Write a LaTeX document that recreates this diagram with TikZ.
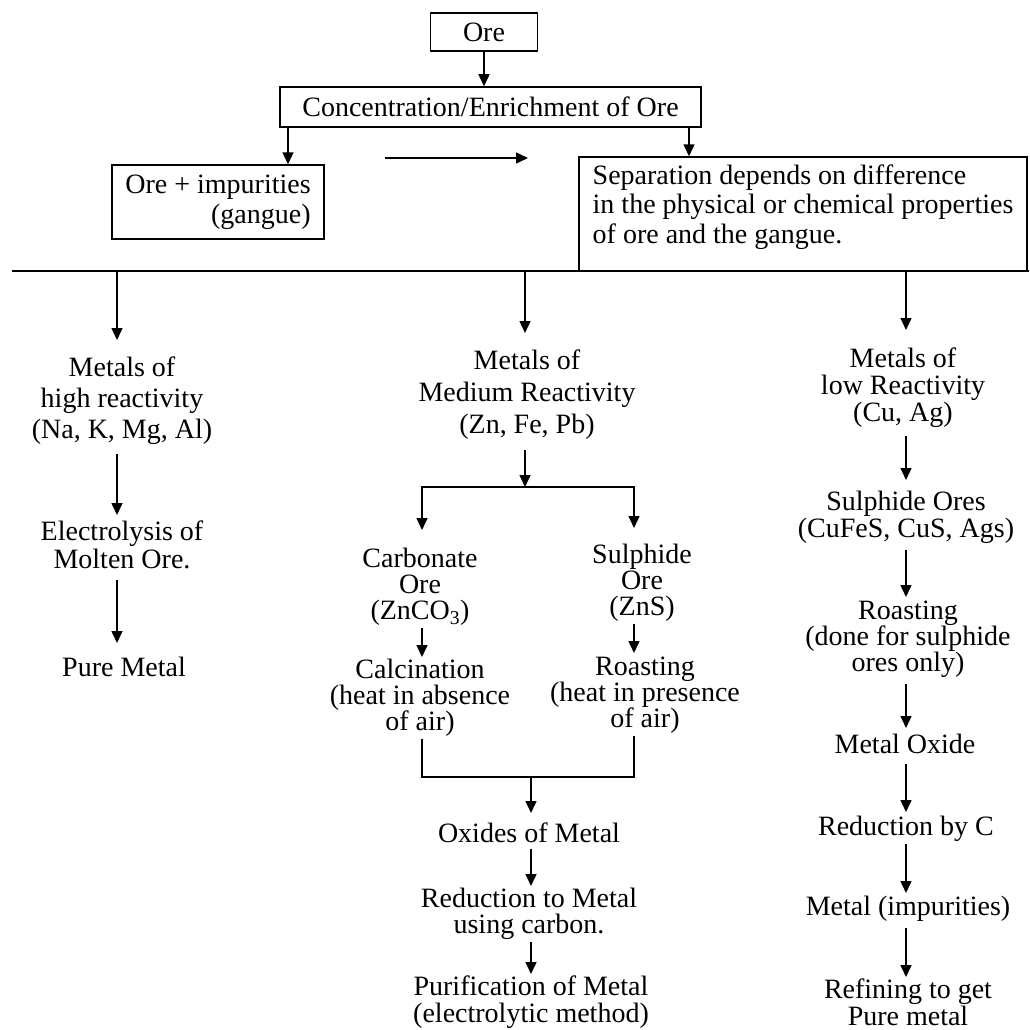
\documentclass[tikz,border=0pt]{standalone}
\usepackage{fontspec}
\setmainfont{Liberation Serif}
\usetikzlibrary{arrows.meta}
\newcommand{\fs}[2]{\fontsize{#1}{#2}\selectfont\lineskiplimit=-50pt\relax}
\tikzset{
  arr/.style={line width=1.5pt, -{Triangle[length=12pt,width=11pt]}},
  ln/.style={line width=1.5pt},
  box/.style={draw, line width=1.5pt, inner sep=0pt, font=\fs{28}{30}},
  txt/.style={inner sep=2pt, anchor=north, align=center, font=\fs{28}{31}},
}
\begin{document}
\begin{tikzpicture}[x=1pt,y=1pt]
\path[fill=white, use as bounding box] (0,0) rectangle (1029,-1030);

% top boxes
\node[box, minimum width=107pt, minimum height=38pt] (ore) at (484,-32) {Ore};
\node[box, minimum width=421pt, minimum height=40pt] (conc) at (490.5,-107) {Concentration/Enrichment of Ore};
\node[box, minimum width=212pt, minimum height=74pt, align=right] (oi) at (218,-202) {Ore + impurities\\(gangue)};
\node[box, minimum width=448pt, minimum height=114pt, align=left, font=\fs{28}{29.5}] (sep) at (803,-214)
  {Separation depends on difference\\in the physical or chemical properties\\of ore and the gangue.\rule[-20pt]{0pt}{1pt}};

% text nodes
\node[txt, font=\fs{28}{31}] (hr) at (122,-355) {Metals of\\high reactivity\\(Na, K, Mg, Al)};
\node[txt, font=\fs{28}{28}] (el) at (122,-519) {Electrolysis of\\Molten Ore.};
\node[txt] (pm) at (124,-655) {Pure Metal};
\node[txt, font=\fs{28}{32}] (med) at (527,-348) {Metals of\\Medium Reactivity\\(Zn, Fe, Pb)};
\node[txt, font=\fs{28}{26}] (carb) at (420,-546) {Carbonate\\Ore\\(ZnCO\textsubscript{3})};
\node[txt, font=\fs{28}{26}] (calc) at (420,-657) {Calcination\\(heat in absence\\of air)};
\node[txt, font=\fs{28}{26}] (sulph) at (642,-542) {Sulphide\\Ore\\(ZnS)};
\node[txt, font=\fs{28}{26}] (roast1) at (645,-655) {Roasting\\(heat in presence\\of air)};
\node[txt] (oxm) at (529,-821) {Oxides of Metal};
\node[txt, font=\fs{28}{26}] (red) at (529,-886) {Reduction to Metal\\using carbon.};
\node[txt, font=\fs{28}{27}] (pur) at (531,-974) {Purification of Metal\\(electrolytic method)};
\node[txt, font=\fs{28}{27}] (low) at (903,-346) {Metals of\\low Reactivity\\(Cu, Ag)};
\node[txt, font=\fs{28}{27}] (sul2) at (906,-489) {Sulphide Ores\\(CuFeS, CuS, Ags)};
\node[txt, font=\fs{28}{26}] (roast2) at (908,-599) {Roasting\\(done for sulphide\\ores only)};
\node[txt] (mo) at (905,-732) {Metal Oxide};
\node[txt] (rc) at (906,-814) {Reduction by C};
\node[txt] (mi) at (908,-894) {Metal (impurities)};
\node[txt, font=\fs{28}{27}] (rf) at (908,-977) {Refining to get\\Pure metal};

% helper coordinates
\coordinate (cA) at (117,0);
\coordinate (cB) at (525,0);
\coordinate (cC) at (422,0);
\coordinate (cD) at (634,0);
\coordinate (cE) at (531,0);
\coordinate (cF) at (906,0);
\coordinate (cG) at (288,0);
\coordinate (cH) at (689,0);
\coordinate (L1) at (12,-271);
\coordinate (L2) at (1029,-271);
\coordinate (mb) at (525,-487);
\coordinate (jn) at (531,-777);
\coordinate (h1) at (385,-158);
\coordinate (h2) at (528,-158);

% connectors
\draw[ln] (L1) -- (L2);
\draw[arr] (ore.south) -- (ore.south |- conc.north);
\draw[arr] (cG |- conc.south) -- (cG |- oi.north);
\draw[arr] (cH |- conc.south) -- (cH |- sep.north);
\draw[arr] (h1) -- (h2);

\draw[arr, shorten >=15pt] (cA |- L1) -- (cA |- hr.north);
\draw[arr, shorten <=7pt, shorten >=4pt] (cA |- hr.south) -- (cA |- el.north);
\draw[arr, shorten <=8pt, shorten >=12pt] (cA |- el.south) -- (cA |- pm.north);

\draw[arr, shorten >=15pt] (cB |- L1) -- (cB |- med.north);
\draw[arr, shorten <=8pt] (cB |- med.south) -- (mb);
\draw[arr, shorten >=16pt] (mb) -| (cC |- carb.north);
\draw[arr, shorten >=14pt] (mb) -| (cD |- sulph.north);
\draw[arr] (cC |- carb.south) -- (cC |- calc.north);
\draw[arr, shorten >=2pt] (cD |- sulph.south) -- (cD |- roast1.north);
\draw[ln] (cC |- calc.south) |- (jn) -| (cD |- roast1.south);
\draw[arr, shorten >=8pt] (jn) -- (cE |- oxm.north);
\draw[arr, shorten <=4pt] (cE |- oxm.south) -- (cE |- red.north);
\draw[arr] (cE |- red.south) -- (cE |- pur.north);

\draw[arr, shorten >=16pt] (cF |- L1) -- (cF |- low.north);
\draw[arr, shorten <=6pt, shorten >=9pt] (cF |- low.south) -- (cF |- sul2.north);
\draw[arr, shorten <=4pt, shorten >=2pt] (cF |- sul2.south) -- (cF |- roast2.north);
\draw[arr, shorten <=4pt, shorten >=4pt] (cF |- roast2.south) -- (cF |- mo.north);
\draw[arr, shorten <=8pt, shorten >=2pt] (cF |- mo.south) -- (cF |- rc.north);
\draw[arr, shorten >=1pt] (cF |- rc.south) -- (cF |- mi.north);
\draw[arr, shorten <=4pt] (cF |- mi.south) -- (cF |- rf.north);
\end{tikzpicture}
\end{document}
